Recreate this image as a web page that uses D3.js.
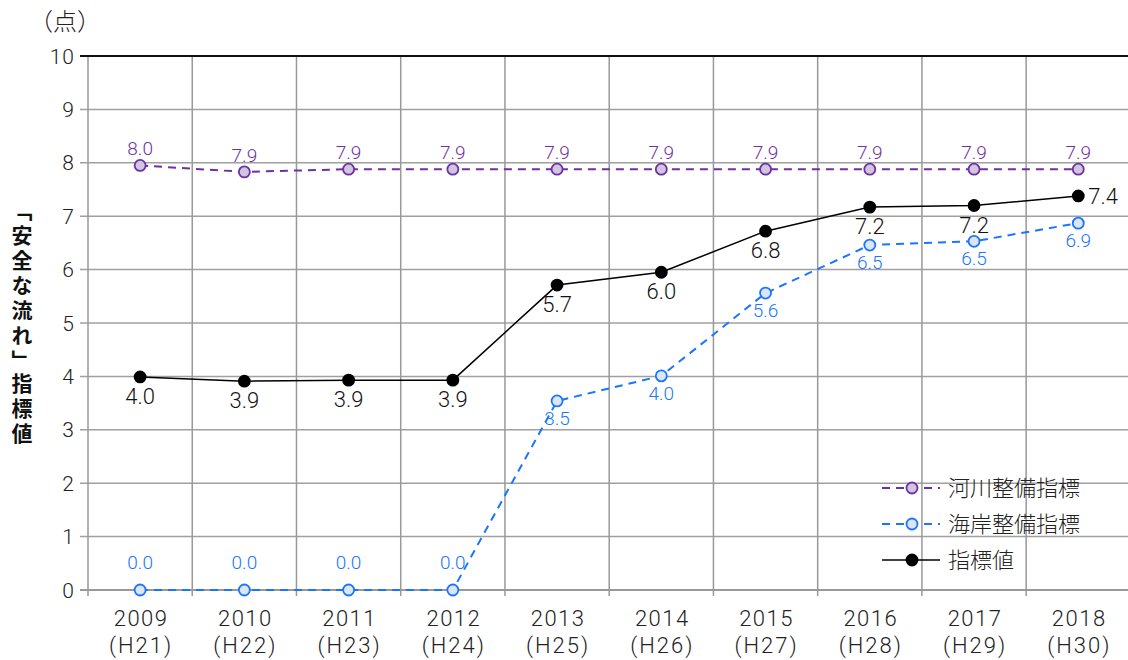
<!DOCTYPE html>
<html>
<head>
<meta charset="utf-8">
<script src="https://cdn.jsdelivr.net/npm/d3@7"></script>
<style>
  body { margin: 0; background: #fff; }
  text { font-family: "Noto Sans CJK JP", "Noto Sans", sans-serif; }
  .num { font-family: Roboto, "Noto Sans CJK JP", sans-serif; font-weight: 300; }
</style>
</head>
<body>
<div id="chart"></div>
<script>
// data
var years   = ["2009","2010","2011","2012","2013","2014","2015","2016","2017","2018"];
var heisei  = ["(H21)","(H22)","(H23)","(H24)","(H25)","(H26)","(H27)","(H28)","(H29)","(H30)"];
var river   = [7.95, 7.83, 7.88, 7.88, 7.88, 7.88, 7.88, 7.88, 7.88, 7.88];
var riverLb = ["8.0","7.9","7.9","7.9","7.9","7.9","7.9","7.9","7.9","7.9"];
var coast   = [0, 0, 0, 0, 3.54, 4.01, 5.56, 6.46, 6.53, 6.87];
var coastLb = ["0.0","0.0","0.0","0.0","3.5","4.0","5.6","6.5","6.5","6.9"];
var total   = [3.99, 3.91, 3.93, 3.93, 5.71, 5.95, 6.72, 7.17, 7.2, 7.38];
var totalLb = ["4.0","3.9","3.9","3.9","5.7","6.0","6.8","7.2","7.2","7.4"];
var yTicks  = [0,1,2,3,4,5,6,7,8,9,10];
var yTitle  = ["「安全な流れ」", "指標値"];

const W = 1128, H = 660;
const purple = "#7030a0", blue = "#1a75ff";

var svg = d3.select("#chart").append("svg")
    .attr("width", W).attr("height", H);

var x = d3.scaleBand().domain(years).range([88, 1130.4]).padding(0);
var y = d3.scaleLinear().domain([0,10]).range([590, 56]);
var cx = d => x(d) + x.bandwidth()/2;

// horizontal grid
svg.append("g").selectAll("line")
    .data(yTicks.filter(d => d > 0 && d < 10))
    .enter().append("line")
    .attr("x1", 80).attr("x2", W)
    .attr("y1", d => y(d)).attr("y2", d => y(d))
    .attr("stroke", "#a0a0a0").attr("stroke-width", 1.5);

// vertical grid
svg.append("g").selectAll("line")
    .data(years)
    .enter().append("line")
    .attr("x1", d => x(d)).attr("x2", d => x(d))
    .attr("y1", y(10)).attr("y2", y(0) + 6)
    .attr("stroke", "#999").attr("stroke-width", 1.5);

// bottom axis line
svg.append("line")
    .attr("x1", 80).attr("x2", W).attr("y1", y(0)).attr("y2", y(0))
    .attr("stroke", "#999").attr("stroke-width", 2);
// top line
svg.append("line")
    .attr("x1", 80).attr("x2", W).attr("y1", y(10)).attr("y2", y(10))
    .attr("stroke", "#111").attr("stroke-width", 2);

// y tick labels
svg.append("g").selectAll("text")
    .data(yTicks)
    .enter().append("text")
    .attr("class", "num")
    .attr("x", 75).attr("y", d => y(d))
    .attr("dy", "0.36em")
    .attr("text-anchor", "end")
    .attr("font-size", 21).attr("letter-spacing", 1).attr("fill", "#222")
    .text(d => d);

// x labels
var xl = svg.append("g").selectAll("g")
    .data(years).enter().append("g");
xl.append("text")
    .attr("class", "num")
    .attr("x", d => cx(d) + 1).attr("y", 626)
    .attr("text-anchor", "middle").attr("font-size", 22)
    .attr("letter-spacing", 1.5).attr("fill", "#222")
    .text(d => d);
xl.append("text")
    .attr("class", "num")
    .attr("x", d => cx(d) + 1).attr("y", 653)
    .attr("text-anchor", "middle").attr("font-size", 22)
    .attr("letter-spacing", 2).attr("fill", "#222")
    .text((d,i) => heisei[i]);

// unit
svg.append("text")
    .attr("x", 29).attr("y", 30)
    .attr("font-size", 24).attr("font-weight", 300).attr("fill", "#222")
    .text("（点）");

// y title (vertical, two pieces)
svg.append("g").selectAll("text")
    .data(yTitle).enter().append("text")
    .attr("x", 22).attr("y", (d,i) => i === 0 ? 200 : 373)
    .attr("writing-mode", "vertical-rl")
    .attr("font-size", 21).attr("font-weight", "bold").attr("fill", "#111")
    .attr("letter-spacing", 4)
    .text(d => d);

var line = d3.line()
    .x((d,i) => cx(years[i]))
    .y(d => y(d));

// coast series
svg.append("path").datum(coast)
    .attr("d", line).attr("fill", "none")
    .attr("stroke", blue).attr("stroke-width", 2)
    .attr("stroke-dasharray", "8,6");
// river series
svg.append("path").datum(river)
    .attr("d", line).attr("fill", "none")
    .attr("stroke", purple).attr("stroke-width", 2)
    .attr("stroke-dasharray", "8,6");
// total series
svg.append("path").datum(total)
    .attr("d", line).attr("fill", "none")
    .attr("stroke", "#000").attr("stroke-width", 1.5);

function markers(data, fill, stroke, r){
    svg.append("g").selectAll("circle")
        .data(data).enter().append("circle")
        .attr("cx", (d,i) => cx(years[i]))
        .attr("cy", d => y(d))
        .attr("r", r)
        .attr("fill", fill).attr("stroke", stroke).attr("stroke-width", 1.8);
}
markers(coast, "#dce6f2", blue, 5.5);
markers(river, "#d0c6e0", purple, 5.5);
markers(total, "#000", "#000", 5.5);

// value labels
svg.append("g").selectAll("text")
    .data(river).enter().append("text")
    .attr("class", "num")
    .attr("x", (d,i) => cx(years[i])).attr("y", d => y(d) - 10)
    .attr("text-anchor", "middle").attr("font-size", 19).attr("fill", purple)
    .text((d,i) => riverLb[i]);

svg.append("g").selectAll("text")
    .data(coast).enter().append("text")
    .attr("class", "num")
    .attr("x", (d,i) => cx(years[i]))
    .attr("y", d => d === 0 ? y(d) - 21 : y(d) + 24)
    .attr("text-anchor", "middle").attr("font-size", 19).attr("fill", blue)
    .text((d,i) => coastLb[i]);

svg.append("g").selectAll("text")
    .data(total).enter().append("text")
    .attr("class", "num")
    .attr("x", (d,i) => i === total.length-1 ? cx(years[i]) + 10 : cx(years[i]))
    .attr("y", (d,i) => i === total.length-1 ? y(d) + 8 : y(d) + 27)
    .attr("text-anchor", (d,i) => i === total.length-1 ? "start" : "middle")
    .attr("font-size", 22).attr("fill", "#111")
    .text((d,i) => totalLb[i]);

// legend
var legend = [
    {name: "河川整備指標", color: purple, fill: "#d0c6e0", dash: "8,6"},
    {name: "海岸整備指標", color: blue, fill: "#dce6f2", dash: "8,6"},
    {name: "指標値", color: "#000", fill: "#000", dash: null}
];
var lg = svg.append("g").selectAll("g")
    .data(legend).enter().append("g")
    .attr("transform", (d,i) => "translate(882," + (488 + i*36) + ")");
lg.append("line")
    .attr("x1", 0).attr("x2", 58)
    .attr("stroke", d => d.color).attr("stroke-width", d => d.dash ? 2 : 1.5)
    .attr("stroke-dasharray", d => d.dash);
lg.append("circle")
    .attr("cx", 30).attr("r", 5.5)
    .attr("fill", d => d.fill).attr("stroke", d => d.color).attr("stroke-width", 1.8);
lg.append("text")
    .attr("x", 66).attr("dy", "0.36em")
    .attr("font-size", 22).attr("font-weight", 300).attr("fill", "#222")
    .text(d => d.name);
</script>
</body>
</html>
